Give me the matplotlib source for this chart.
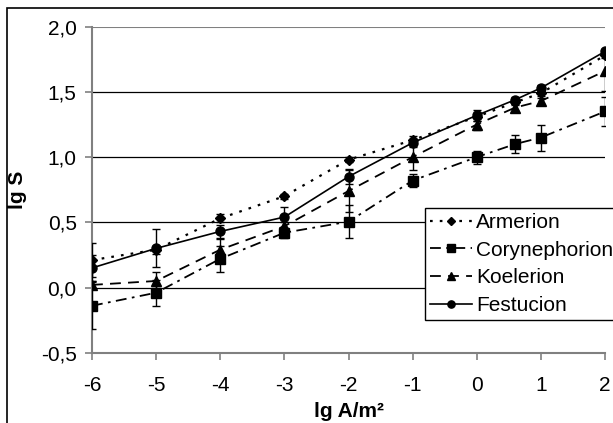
import matplotlib
matplotlib.use("Agg")
import matplotlib.pyplot as plt
from matplotlib.ticker import FuncFormatter
from matplotlib.patches import Rectangle

plt.rcParams['font.family'] = ['Liberation Sans', 'DejaVu Sans']

x = [-6, -5, -4, -3, -2, -1, 0, 0.6, 1, 2]

armerion = [0.21, 0.29, 0.53, 0.70, 0.98, 1.13, 1.31, 1.42, 1.49, 1.78]
armerion_err = [0.13, 0.03, 0.03, 0.02, 0.02, 0.03, 0.03, 0.02, 0.02, 0.02]

corynephorion = [-0.14, -0.04, 0.22, 0.42, 0.505, 0.82, 1.00, 1.10, 1.15, 1.35]
corynephorion_err = [0.18, 0.10, 0.10, 0.04, 0.125, 0.05, 0.05, 0.07, 0.10, 0.11]

koelerion = [0.02, 0.05, 0.29, 0.47, 0.74, 1.00, 1.25, 1.38, 1.43, 1.66]
koelerion_err = [0.03, 0.07, 0.08, 0.03, 0.16, 0.10, 0.04, 0.03, 0.02, 0.15]

festucion = [0.15, 0.30, 0.43, 0.54, 0.85, 1.11, 1.32, 1.44, 1.53, 1.81]
festucion_err = [0.10, 0.145, 0.05, 0.08, 0.06, 0.03, 0.04, 0.02, 0.02, 0.02]

xticks = [-6, -5, -4, -3, -2, -1, 0, 1, 2]
yticks = [-0.5, 0.0, 0.5, 1.0, 1.5, 2.0]

FS = 15

fig = plt.figure(figsize=(6.13, 4.23), dpi=100)
ax = fig.add_axes([92/613, 70.3/423, 513/613, 326/423])

# outer frame
fig.patches.append(Rectangle((7/613, -0.05), 1.2, 0.05 + 415/423, transform=fig.transFigure,
                             fill=False, edgecolor='black', linewidth=1.2))

for v in yticks[1:-1]:
    ax.axhline(v, color='black', linewidth=0.9, zorder=1)
ax.axhline(2.0, color='#808080', linewidth=1.5, zorder=1)

common = dict(color='black', ecolor='black', elinewidth=1.0, capsize=3, capthick=1.0, zorder=3)

c1 = ax.errorbar(x, armerion, yerr=armerion_err, linestyle=(0, (1.2, 3.2)), linewidth=1.6,
                 marker='D', markersize=5, **common)
c2 = ax.errorbar(x, corynephorion, yerr=corynephorion_err, linestyle=(0, (6, 3, 1.5, 3)), linewidth=1.3,
                 marker='s', markersize=6.5, **common)
c3 = ax.errorbar(x, koelerion, yerr=koelerion_err, linestyle=(0, (6, 4)), linewidth=1.3,
                 marker='^', markersize=7, **common)
c4 = ax.errorbar(x, festucion, yerr=festucion_err, linestyle='-', linewidth=1.2,
                 marker='o', markersize=6.5, **common)

ax.set_xlim(-6, 2)
ax.set_ylim(-0.5, 2.0)
ax.set_xticks(xticks)
ax.set_yticks(yticks)
ax.yaxis.set_major_formatter(FuncFormatter(lambda v, p: f"{v:.1f}".replace('.', ',')))
ax.xaxis.set_major_formatter(FuncFormatter(lambda v, p: f"{int(v)}"))

for s in ['top', 'right']:
    ax.spines[s].set_visible(False)
for s in ['left', 'bottom']:
    ax.spines[s].set_color('#808080')
    ax.spines[s].set_linewidth(1.5)
ax.tick_params(axis='both', direction='out', length=5, width=1.2, color='#808080',
               labelsize=FS, labelcolor='black')
ax.tick_params(axis='x', pad=12)
ax.tick_params(axis='y', pad=6)

ax.set_xlabel('lg A/m²', fontsize=FS, fontweight='bold', labelpad=5)
ax.set_ylabel('lg S', fontsize=FS, fontweight='bold', labelpad=10)

handles = [c1[0], c2[0], c3[0], c4[0]]
labels = ['Armerion', 'Corynephorion', 'Koelerion', 'Festucion']
leg = ax.legend(handles, labels, loc='upper left', bbox_to_anchor=(0.649, 0.445), fontsize=FS,
                frameon=True, fancybox=False, edgecolor='black', framealpha=1,
                handlelength=2.0, handletextpad=0.2, borderpad=0.25, labelspacing=0.42,
                borderaxespad=0, markerscale=0.8)
leg.get_frame().set_linewidth(1.0)
leg.set_zorder(5)

fig.savefig('out.png', dpi=100)
